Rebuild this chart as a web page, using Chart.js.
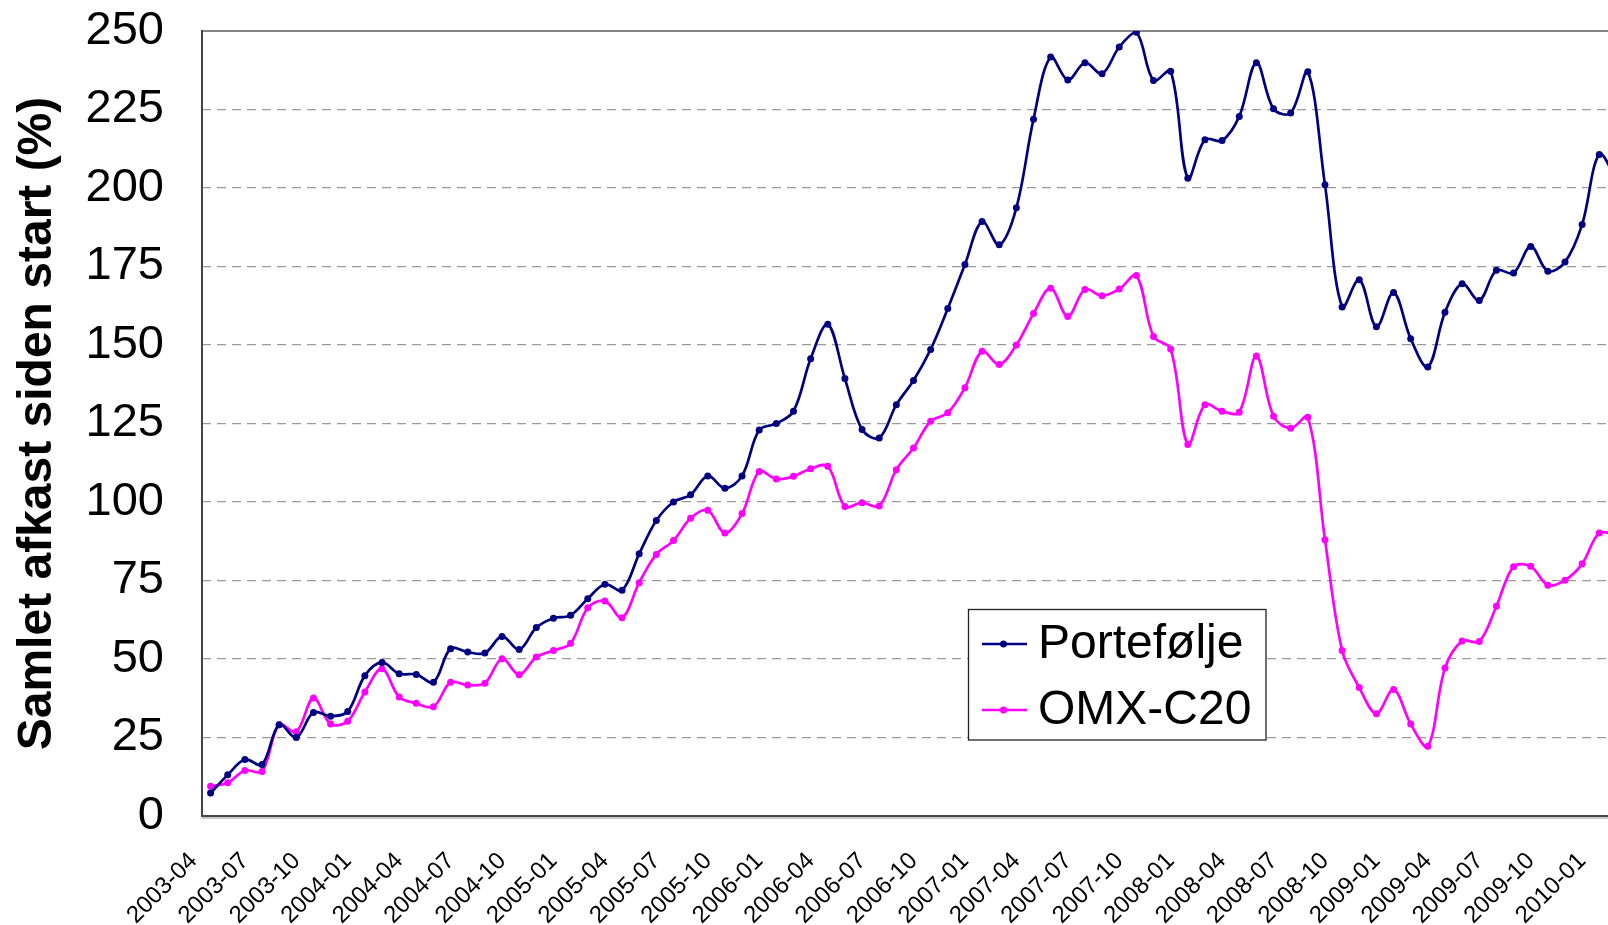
<!DOCTYPE html>
<html>
<head>
<meta charset="utf-8">
<script src="https://cdn.jsdelivr.net/npm/chart.js@4.4.1/dist/chart.umd.min.js"></script>
<style>
  html, body { margin: 0; padding: 0; overflow: hidden; background: #ffffff; }
  #wrap { position: absolute; left: 0; top: 0; width: 1640px; height: 925px; }
</style>
</head>
<body>
<div id="wrap"><canvas id="c" width="1640" height="925"></canvas></div>
<script>
const months = [
  '2003-04','2003-05','2003-06','2003-07','2003-08','2003-09','2003-10','2003-11','2003-12',
  '2004-01','2004-02','2004-03','2004-04','2004-05','2004-06','2004-07','2004-08','2004-09','2004-10','2004-11','2004-12',
  '2005-01','2005-02','2005-03','2005-04','2005-05','2005-06','2005-07','2005-08','2005-09','2005-10','2005-11','2005-12',
  '2006-01','2006-02','2006-03','2006-04','2006-05','2006-06','2006-07','2006-08','2006-09','2006-10','2006-11','2006-12',
  '2007-01','2007-02','2007-03','2007-04','2007-05','2007-06','2007-07','2007-08','2007-09','2007-10','2007-11','2007-12',
  '2008-01','2008-02','2008-03','2008-04','2008-05','2008-06','2008-07','2008-08','2008-09','2008-10','2008-11','2008-12',
  '2009-01','2009-02','2009-03','2009-04','2009-05','2009-06','2009-07','2009-08','2009-09','2009-10','2009-11','2009-12',
  '2010-01','2010-02'
];

const portefolje = [
  7.3, 13.1, 18.0, 16.4, 29.1, 25.0, 33.0, 31.8, 33.3,
  44.7, 48.9, 45.3, 45.1, 42.6, 53.3, 52.2, 51.9, 57.2, 53.0, 60.0, 63.0,
  63.9, 69.2, 73.8, 71.9, 83.5, 94.1, 100.0, 102.3, 108.3, 104.4, 108.3, 122.9,
  125.0, 128.9, 145.6, 156.6, 139.3, 123.1, 120.4, 131.0, 138.7, 148.6, 161.6, 175.6,
  189.3, 181.9, 193.7, 221.9, 241.7, 234.4, 239.9, 236.4, 244.9, 249.6, 234.2, 237.2,
  203.1, 215.4, 215.1, 222.8, 239.9, 225.2, 223.9, 237.0, 201.0, 162.1, 170.8, 155.8,
  166.7, 152.0, 143.0, 160.4, 169.5, 164.2, 173.8, 172.9, 181.4, 173.5, 176.4, 188.4,
  210.7, 203.0
];

const omxc20 = [
  9.5, 10.6, 14.5, 14.2, 29.1, 26.8, 37.6, 29.3, 30.2,
  39.5, 46.9, 37.9, 35.9, 34.8, 42.6, 41.7, 42.3, 50.1, 45.0, 50.6, 52.7,
  55.0, 66.3, 68.5, 63.1, 74.3, 83.3, 87.7, 94.8, 97.4, 90.1, 96.3, 109.7,
  107.3, 108.2, 110.6, 111.4, 98.6, 99.8, 98.7, 110.3, 117.2, 125.7, 128.4, 136.4,
  148.0, 143.8, 150.0, 160.0, 168.1, 159.1, 167.7, 165.7, 167.8, 172.1, 152.7, 148.7,
  118.3, 131.0, 128.9, 128.6, 146.5, 127.3, 123.5, 127.0, 88.0, 52.7, 40.9, 32.6,
  40.3, 29.3, 22.2, 47.1, 55.7, 55.6, 66.8, 79.4, 79.5, 73.5, 75.1, 80.3,
  90.1, 89.5
];

const seriesNames = ['Portefølje', 'OMX-C20'];
const seriesColors = ['#000080', '#FF00FF'];
const yTicksMin = 0, yTicksMax = 250, yTicksStep = 25;
const yTitle = 'Samlet afkast siden start (%)';

const FONT = "'Liberation Sans', Arial, Helvetica, sans-serif";

const framePlugin = {
  id: 'frame',
  beforeDatasetsDraw(chart) {
    const {ctx, chartArea: a} = chart;
    ctx.save();
    ctx.lineCap = 'square';
    ctx.strokeStyle = '#c8c8c8';
    ctx.lineWidth = 2;
    ctx.beginPath(); ctx.moveTo(a.left + 1, a.bottom + 2); ctx.lineTo(a.right, a.bottom + 2); ctx.stroke();
    ctx.strokeStyle = '#858585';
    ctx.lineWidth = 2;
    ctx.beginPath(); ctx.moveTo(a.left, a.top); ctx.lineTo(a.right, a.top); ctx.stroke();
    ctx.strokeStyle = '#454545';
    ctx.beginPath();
    ctx.moveTo(a.left, a.top); ctx.lineTo(a.left, a.bottom); ctx.lineTo(a.right, a.bottom); ctx.lineTo(a.right, a.top);
    ctx.stroke();
    ctx.restore();
  }
};

const legendPlugin = {
  id: 'boxLegend',
  afterDraw(chart) {
    const {ctx} = chart;
    const bx = 968.5, by = 609.5, bw = 297.5, bh = 130.5;
    ctx.save();
    ctx.fillStyle = '#ffffff';
    ctx.fillRect(bx, by, bw, bh);
    ctx.strokeStyle = '#222222';
    ctx.lineWidth = 1.3;
    ctx.strokeRect(bx, by, bw, bh);
    const rows = [644, 710];
    chart.data.datasets.forEach((ds, i) => {
      const y = rows[i];
      ctx.strokeStyle = ds.borderColor;
      ctx.lineWidth = 2.5;
      ctx.beginPath(); ctx.moveTo(982, y); ctx.lineTo(1027, y); ctx.stroke();
      ctx.fillStyle = ds.borderColor;
      ctx.beginPath(); ctx.arc(1003.5, y, 3.5, 0, Math.PI * 2); ctx.fill();
      ctx.fillStyle = '#000000';
      ctx.font = '48px ' + FONT;
      ctx.textAlign = 'left';
      ctx.textBaseline = 'middle';
      ctx.fillText(ds.label, 1038, y + 1);
    });
    ctx.restore();
  }
};

const mkDataset = (label, data, color) => ({
  label, data,
  borderColor: color,
  backgroundColor: color,
  borderWidth: 2.7,
  pointRadius: 3.5,
  pointBorderWidth: 0,
  pointBackgroundColor: color,
  pointHoverRadius: 3.5,
  tension: 0.35,
  fill: false
});

new Chart(document.getElementById('c'), {
  type: 'line',
  data: {
    labels: months,
    datasets: [
      mkDataset(seriesNames[0], portefolje, seriesColors[0]),
      mkDataset(seriesNames[1], omxc20, seriesColors[1])
    ]
  },
  options: {
    responsive: false,
    devicePixelRatio: 1,
    animation: false,
    events: [],
    layout: { padding: { left: 0, top: 31, right: 15, bottom: 0 } },
    plugins: { legend: { display: false }, tooltip: { enabled: false } },
    scales: {
      x: {
        type: 'category',
        offset: true,
        grid: { display: false, drawTicks: false },
        border: { display: false },
        afterFit(scale) {
          scale.height = 109;
          scale.paddingLeft = 0; scale.paddingRight = 0;
          scale.paddingTop = 0; scale.paddingBottom = 0;
        },
        ticks: {
          autoSkip: false,
          maxRotation: 45,
          minRotation: 45,
          padding: 31,
          labelOffset: -17,
          color: '#000000',
          font: { family: FONT, size: 24 },
          callback(value, index) { return index % 3 === 0 ? months[index] : ''; }
        }
      },
      y: {
        min: yTicksMin,
        max: yTicksMax,
        afterFit(scale) {
          scale.width = 202;
          scale.paddingTop = 0; scale.paddingBottom = 0;
          scale.paddingLeft = 0; scale.paddingRight = 0;
        },
        grid: { color: '#9a9a9a', lineWidth: 1.3, drawTicks: false },
        border: { display: false, dash: [9, 6] },
        ticks: {
          stepSize: yTicksStep,
          padding: 38,
          color: '#000000',
          font: { family: FONT, size: 47 }
        },
        title: {
          display: true,
          text: yTitle,
          color: '#000000',
          font: { family: FONT, size: 48, weight: 'bold' },
          padding: { top: 9, bottom: 0 }
        }
      }
    }
  },
  plugins: [framePlugin, legendPlugin]
});
</script>
</body>
</html>
